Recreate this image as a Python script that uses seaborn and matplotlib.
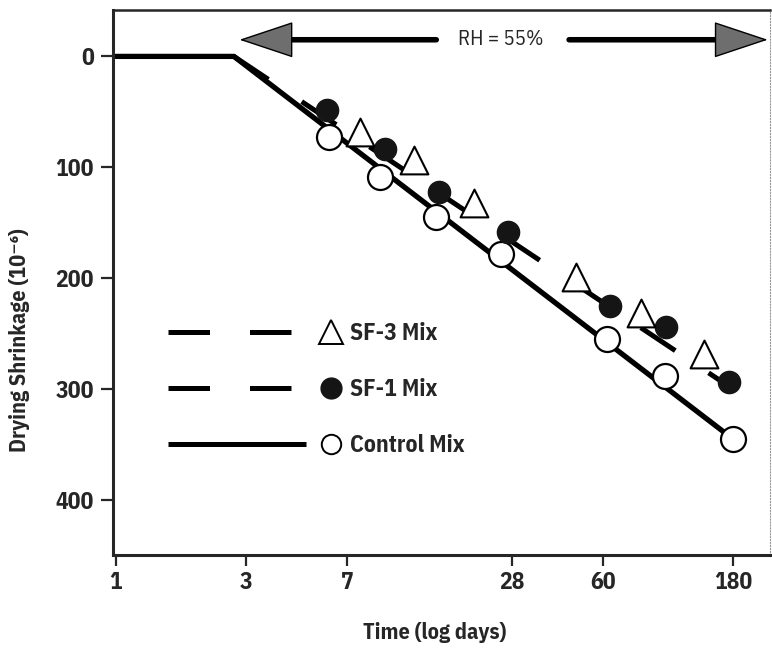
import matplotlib
matplotlib.use("Agg")
import matplotlib.pyplot as plt
import seaborn as sns
from matplotlib.lines import Line2D
from matplotlib.legend_handler import HandlerBase
from matplotlib.patches import ArrowStyle
from matplotlib.ticker import NullLocator

# values (days, shrinkage in 1e-6)
control_days = [6.0, 9.2, 14.8, 25.6, 62, 101, 180]
control_shrink = [73, 109, 145, 178, 255, 288, 345]
sf1_days = [5.9, 9.6, 15.2, 27, 63.5, 102, 174]
sf1_shrink = [48, 83, 122, 158, 225, 244, 293]
sf3_days = [7.8, 12.3, 20.4, 48, 83, 141]
sf3_shrink = [68, 93, 132, 199, 231, 268]

# trend lines as drawn (flat until drying starts at ~2.7 days)
control_line_days = [1, 2.7, 180]
control_line_shrink = [0, 0, 345]
sf_line_days = [2.7, 180]
sf_line_shrink = [0, 300]

xticks = [1, 3, 7, 28, 60, 180]
yticks = [0, 100, 200, 300, 400]

# RH arrow: tips and text position
rh_label = "RH = 55%"
rh_y = -15
rh_left_tip, rh_left_start = 2.83, 14.8
rh_right_start, rh_right_tip = 45.2, 240
rh_text_x = 25.5

DASH = (0, (8.3, 8))

sns.set_style("ticks")
# narrow bold face like the scan; falls back to wider ones if missing
plt.rcParams["font.family"] = ["Liberation Sans Narrow", "IBM Plex Sans Condensed",
                               "Liberation Sans", "DejaVu Sans"]
plt.rcParams["font.weight"] = "bold"
plt.rcParams["axes.labelweight"] = "bold"


class LineThenMarker(HandlerBase):
    """legend entry: line sample on the left, marker at the right end"""

    def __init__(self, line_kw, marker_kw):
        super().__init__()
        self.line_kw = line_kw
        self.marker_kw = marker_kw

    def create_artists(self, legend, orig_handle, xdescent, ydescent,
                       width, height, fontsize, trans):
        y = height / 2 - ydescent
        x0 = -xdescent
        line = Line2D([x0, x0 + 0.794 * width], [y, y], **self.line_kw)
        mk = Line2D([x0 + 0.937 * width], [y], linestyle="none", **self.marker_kw)
        line.set_transform(trans)
        mk.set_transform(trans)
        return [line, mk]


fig = plt.figure(figsize=(7.72, 6.52), dpi=100)
ax = fig.add_axes([0.146, 0.149, 0.851, 0.836])

sns.lineplot(x=control_line_days, y=control_line_shrink, color="black",
             lw=3.8, ax=ax, sort=False, estimator=None)
sns.lineplot(x=sf_line_days, y=sf_line_shrink, color="black", lw=3.6,
             linestyle=DASH, ax=ax, sort=False, estimator=None)

sns.scatterplot(x=control_days, y=control_shrink, marker="o", s=18 ** 2,
                facecolor="white", edgecolor="black", linewidth=1.6,
                ax=ax, zorder=5)
sns.scatterplot(x=sf1_days, y=sf1_shrink, marker="o", s=16 ** 2,
                color="#151515", edgecolor="#151515", linewidth=1,
                ax=ax, zorder=5)
sns.scatterplot(x=sf3_days, y=sf3_shrink, marker="^", s=20 ** 2,
                facecolor="white", edgecolor="black", linewidth=1.5,
                ax=ax, zorder=5)

# RH = 55% double arrow
head = ArrowStyle("-|>", head_length=36, head_width=12)
for start, tip in [(rh_left_start, rh_left_tip), (rh_right_start, rh_right_tip)]:
    ax.annotate("", xy=(tip, rh_y), xytext=(start, rh_y),
                arrowprops=dict(arrowstyle="-", lw=4, color="black",
                                shrinkA=0, shrinkB=20))
    ax.annotate("", xy=(tip, rh_y), xytext=(start, rh_y),
                arrowprops=dict(arrowstyle=head, mutation_scale=1, lw=1,
                                fc="#6e6e6e", ec="black",
                                shrinkA=0, shrinkB=0))
ax.text(rh_text_x, rh_y, rh_label, ha="center", va="center", fontsize=15,
        fontweight="normal", family=["Liberation Sans Narrow", "IBM Plex Sans Condensed",
                                     "DejaVu Sans"])

# legend
line_kw = dict(color="black", lw=3.6, solid_capstyle="butt", dash_capstyle="butt")
handles = [Line2D([], []), Line2D([], []), Line2D([], [])]
labels = ["SF-3 Mix", "SF-1 Mix", "Control Mix"]
hmap = {
    handles[0]: LineThenMarker(dict(line_kw, linestyle=DASH),
                               dict(marker="^", ms=17, mfc="white", mec="black", mew=1.4)),
    handles[1]: LineThenMarker(dict(line_kw, linestyle=DASH),
                               dict(marker="o", ms=15, mfc="#151515", mec="#151515")),
    handles[2]: LineThenMarker(dict(line_kw),
                               dict(marker="o", ms=14, mfc="white", mec="black", mew=1.4)),
}
ax.legend(handles, labels, handler_map=hmap, loc="upper left",
          bbox_to_anchor=(0.0837, 0.4275), frameon=False, borderpad=0,
          borderaxespad=0, handlelength=7.4, handletextpad=0.3,
          labelspacing=1.4, fontsize=17)

ax.set_xscale("log")
ax.set_xlim(0.975, 244)
ax.set_ylim(449, -42)
ax.set_xticks(xticks)
ax.set_xticklabels([str(t) for t in xticks])
ax.xaxis.set_minor_locator(NullLocator())
ax.set_yticks(yticks)
ax.tick_params(axis="both", labelsize=17, width=1.6, direction="out")
ax.tick_params(axis="x", length=8, pad=3.5)
ax.tick_params(axis="y", length=8.5, pad=5)

for side in ["left", "bottom"]:
    ax.spines[side].set_linewidth(2.2)
ax.spines["top"].set_linewidth(1.8)
ax.spines["right"].set_linewidth(0.8)
ax.spines["right"].set_color("#999999")
ax.spines["right"].set_linestyle(":")

ax.set_xlabel("Time (log days)", fontsize=16, fontweight="bold", va="center")
ax.xaxis.set_label_coords(0.49, -0.143)
ax.set_ylabel("Drying Shrinkage (10⁻⁶)", fontsize=16, fontweight="bold", va="center")
ax.yaxis.set_label_coords(-0.1416, 0.394)

fig.savefig("out.png", dpi=100)
